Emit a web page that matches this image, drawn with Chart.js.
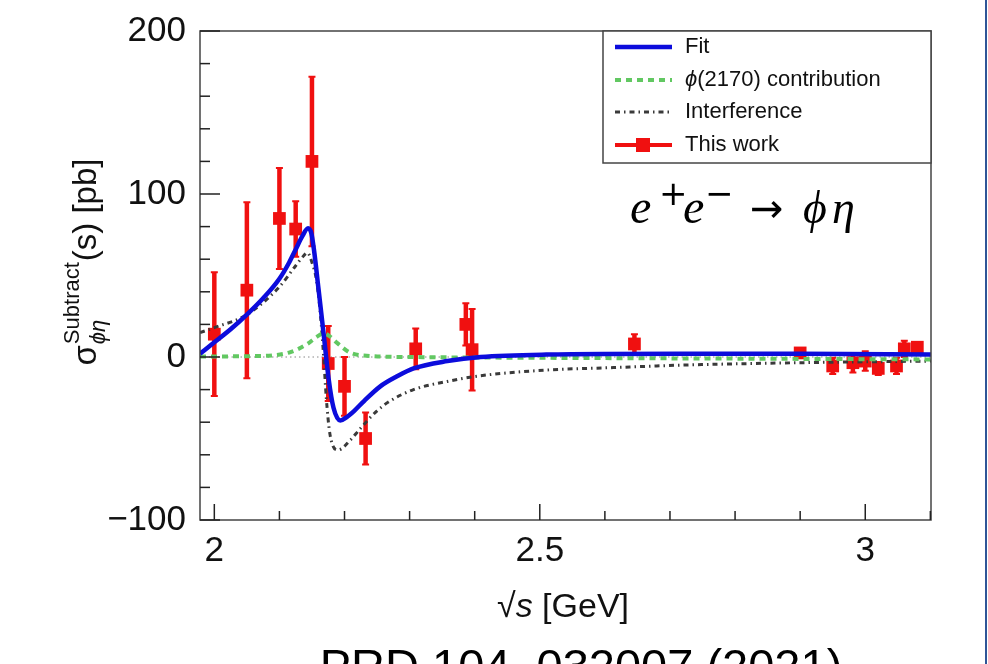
<!DOCTYPE html>
<html>
<head>
<meta charset="utf-8">
<script src="https://cdn.jsdelivr.net/npm/chart.js@4/dist/chart.umd.min.js"></script>
<style>
  html, body { margin: 0; padding: 0; background: #ffffff; }
  #wrap { position: relative; width: 988px; height: 664px; overflow: hidden; }
  canvas { display: block; }
</style>
</head>
<body>
<div id="wrap"><canvas id="c" width="988" height="664"></canvas></div>
<script>
// ---- data ----
const energies   = [2.0, 2.05, 2.1, 2.125, 2.15, 2.175, 2.2, 2.2324, 2.3094, 2.3864, 2.396, 2.6454, 2.9, 2.95, 2.981, 3.0, 3.02, 3.048, 3.06, 3.08];
const xsection   = [14, 41, 85, 78.5, 120, -4, -18, -50, 5, 20, 4.5, 8, 2.5, -5.5, -3.5, -2.5, -7, -5.5, 5, 6];
const xsErrors   = [38, 54, 31, 17, 52, 23, 18, 16, 12.5, 13, 25, 6, 3, 5, 6, 6, 4, 5, 5, 3];

const fitX  = [1.978, 2.0, 2.025, 2.05, 2.075, 2.1, 2.115, 2.125, 2.135, 2.144, 2.149, 2.153, 2.16, 2.168, 2.1755, 2.183, 2.1935, 2.203, 2.215, 2.23, 2.255, 2.28, 2.306, 2.358, 2.409, 2.51, 2.716, 2.9, 3.101];
const fitY  = [2, 9, 17, 26, 36, 48, 58, 66, 74, 79, 76, 66, 42, 14, -13, -31, -39, -37, -33, -27, -18, -12, -7, -2.5, 0, 1.5, 2, 2, 1.5];

const phiX  = [1.978, 2.05, 2.09, 2.117, 2.143, 2.158, 2.168, 2.178, 2.189, 2.209, 2.24, 2.3, 2.5, 2.8, 3.101];
const phiY  = [0.3, 0.5, 1, 3, 8, 12.5, 14.5, 12.5, 8.5, 2.6, 0.6, 0, -0.5, -1, -1.5];

const intX  = [1.978, 2.0, 2.05, 2.1, 2.125, 2.137, 2.143, 2.15, 2.157, 2.163, 2.168, 2.172, 2.1775, 2.19, 2.209, 2.224, 2.25, 2.27, 2.306, 2.358, 2.409, 2.51, 2.613, 2.716, 2.9, 3.101];
const intY  = [15, 18, 26, 43, 56, 62, 64, 58, 47, 26, 0, -25, -47, -57, -51, -44, -33, -27, -20, -15, -11.5, -8, -6.5, -5, -3.5, -2.5];

const xTickValues  = [2.0, 2.1, 2.2, 2.3, 2.4, 2.5, 2.6, 2.7, 2.8, 2.9, 3.0, 3.1];
const xTickLabels  = {"2": "2", "2.5": "2.5", "3": "3"};
const yTickValues  = [-100, -80, -60, -40, -20, 0, 20, 40, 60, 80, 100, 120, 140, 160, 180, 200];
const yTickLabels  = {"-100": "\u2212100", "0": "0", "100": "100", "200": "200"};
const legendLabels = ["Fit", "\u03D5(2170) contribution", "Interference", "This work"];

const toXY = (xs, ys) => xs.map((x, i) => ({x: x, y: ys[i]}));

const FONT = "'Liberation Sans', Arial, Helvetica, sans-serif";
const RED = '#f01010', BLUE = '#0c0cdc', GREEN = '#62c862', GREY = '#3a3a3a';

const decorPlugin = {
  id: 'decor',
  beforeDatasetsDraw(chart) {
    const ctx = chart.ctx, xs = chart.scales.x, ys = chart.scales.y, a = chart.chartArea;
    ctx.save();
    // zero line (dotted)
    const y0 = ys.getPixelForValue(0);
    ctx.strokeStyle = '#888'; ctx.lineWidth = 1; ctx.setLineDash([1.5, 3]);
    ctx.beginPath(); ctx.moveTo(a.left, y0); ctx.lineTo(a.right, y0); ctx.stroke();
    ctx.setLineDash([]);
    // error bars
    ctx.strokeStyle = RED;
    energies.forEach((e, i) => {
      const px = xs.getPixelForValue(e);
      const pt = ys.getPixelForValue(xsection[i] + xsErrors[i]);
      const pb = ys.getPixelForValue(xsection[i] - xsErrors[i]);
      ctx.lineWidth = 4.5;
      ctx.beginPath(); ctx.moveTo(px, pt); ctx.lineTo(px, pb); ctx.stroke();
      ctx.lineWidth = 2;
      ctx.beginPath(); ctx.moveTo(px - 3.5, pt); ctx.lineTo(px + 3.5, pt);
      ctx.moveTo(px - 3.5, pb); ctx.lineTo(px + 3.5, pb); ctx.stroke();
    });
    ctx.restore();
  },
  afterDatasetsDraw(chart) {
    const ctx = chart.ctx, xs = chart.scales.x, ys = chart.scales.y, a = chart.chartArea;
    ctx.save();
    // frame
    ctx.strokeStyle = '#444'; ctx.lineWidth = 1.5;
    ctx.strokeRect(a.left, a.top, a.right - a.left, a.bottom - a.top);
    // ticks (inward)
    ctx.strokeStyle = '#222'; ctx.lineWidth = 1.5;
    xs.ticks.forEach(t => {
      const px = xs.getPixelForValue(t.value);
      const major = xTickLabels[String(+t.value.toFixed(2))] !== undefined;
      ctx.beginPath(); ctx.moveTo(px, a.bottom); ctx.lineTo(px, a.bottom - (major ? 16 : 9)); ctx.stroke();
    });
    ys.ticks.forEach(t => {
      const py = ys.getPixelForValue(t.value);
      const major = yTickLabels[String(t.value)] !== undefined;
      ctx.beginPath(); ctx.moveTo(a.left, py); ctx.lineTo(a.left + (major ? 20 : 10), py); ctx.stroke();
    });
    // legend box
    const lx0 = 603, lx1 = a.right, ly0 = a.top, ly1 = 163;
    ctx.fillStyle = '#fff';
    ctx.fillRect(lx0, ly0, lx1 - lx0, ly1 - ly0);
    ctx.strokeStyle = '#444'; ctx.lineWidth = 1.5;
    ctx.strokeRect(lx0, ly0, lx1 - lx0, ly1 - ly0);
    const rows = [47, 80, 112, 145];
    const ds = chart.data.datasets;
    rows.forEach((ry, i) => {
      const d = ds[i];
      ctx.strokeStyle = d.borderColor; ctx.lineWidth = d.borderWidth;
      ctx.setLineDash(d.borderDash || []);
      ctx.beginPath(); ctx.moveTo(615, ry); ctx.lineTo(672, ry); ctx.stroke();
      ctx.setLineDash([]);
      if (i === 3) { ctx.fillStyle = RED; ctx.fillRect(636, ry - 7, 14, 14); }
      ctx.fillStyle = '#111';
      ctx.textBaseline = 'middle'; ctx.textAlign = 'left';
      if (i === 1) {
        ctx.font = "italic 22px " + FONT;
        ctx.fillText("\u03D5", 685, ry);
        const w = ctx.measureText("\u03D5").width;
        ctx.font = "22px " + FONT;
        ctx.fillText("(2170) contribution", 685 + w, ry);
      } else {
        ctx.font = "22px " + FONT;
        ctx.fillText(legendLabels[i], 685, ry);
      }
    });
    // x title: √s [GeV]
    ctx.fillStyle = '#111'; ctx.textBaseline = 'alphabetic'; ctx.textAlign = 'left';
    const xf = "34px " + FONT;
    ctx.font = xf;
    const p1 = "\u221A", p3 = " [GeV]";
    const w1 = ctx.measureText(p1).width, w3 = ctx.measureText(p3).width;
    ctx.font = "italic " + xf;
    const w2 = ctx.measureText("s").width;
    let sx = 563 - (w1 + w2 + w3) / 2;
    const by = 617;
    ctx.font = xf; ctx.fillText(p1, sx, by);
    ctx.font = "italic " + xf; ctx.fillText("s", sx + w1, by);
    ctx.font = xf; ctx.fillText(p3, sx + w1 + w2, by);

    // y title (rotated)
    ctx.save();
    ctx.translate(96, 262);
    ctx.rotate(-Math.PI / 2);
    const mf = "33px " + FONT, sf = "22px " + FONT;
    ctx.font = mf; const ws = ctx.measureText("\u03C3").width; const wm = ctx.measureText("(s) [pb]").width;
    ctx.font = sf; const wsup = ctx.measureText("Subtract").width;
    ctx.font = "italic " + sf; const wsub = ctx.measureText("\u03D5\u03B7").width;
    const total = ws + Math.max(wsup, wsub) + 2 + wm;
    let tx = -total / 2;
    ctx.font = mf; ctx.fillText("\u03C3", tx, 0);
    ctx.font = sf; ctx.fillText("Subtract", tx + ws + 1, -17);
    ctx.font = "italic " + sf; ctx.fillText("\u03D5\u03B7", tx + ws + 1, 9);
    ctx.font = mf; ctx.fillText("(s) [pb]", tx + ws + Math.max(wsup, wsub) + 2, 0);
    ctx.restore();

    // reaction label
    ctx.fillStyle = '#000';
    const serif = "'Liberation Serif', 'DejaVu Serif', serif";
    ctx.font = "italic 48px " + serif;
    ctx.fillText("e", 630, 223);
    ctx.fillText("e", 683, 223);
    ctx.font = "34px 'DejaVu Sans', sans-serif";
    ctx.fillText("+", 659, 205);
    ctx.fillText("\u2212", 705, 205);
    ctx.font = "40px 'DejaVu Sans', sans-serif";
    ctx.fillText("\u2192", 750, 222);
    ctx.font = "italic 46px " + serif;
    ctx.fillText("\u03D5", 803, 223);
    ctx.fillText("\u03B7", 832, 223);

    // citation at bottom
    ctx.font = "47px " + FONT; ctx.textAlign = 'center';
    ctx.fillText("PRD 104, 032007 (2021)", 581, 682);

    // slide border at right
    ctx.fillStyle = '#2f5597';
    ctx.fillRect(985, 0, 2, 664);
    ctx.restore();
  }
};

new Chart(document.getElementById('c'), {
  type: 'scatter',
  data: {
    datasets: [
      { label: legendLabels[0], data: toXY(fitX, fitY), showLine: true, borderColor: BLUE, borderWidth: 4.5,
        pointRadius: 0, cubicInterpolationMode: 'monotone', fill: false },
      { label: legendLabels[1], data: toXY(phiX, phiY), showLine: true, borderColor: GREEN, borderWidth: 4,
        borderDash: [6, 5], pointRadius: 0, cubicInterpolationMode: 'monotone', fill: false },
      { label: legendLabels[2], data: toXY(intX, intY), showLine: true, borderColor: GREY, borderWidth: 3,
        borderDash: [5, 4, 1.5, 4], pointRadius: 0, cubicInterpolationMode: 'monotone', fill: false },
      { label: legendLabels[3], data: toXY(energies, xsection), showLine: false, borderColor: RED, borderWidth: 4,
        backgroundColor: RED, pointStyle: 'rect', pointRadius: 9, pointBorderWidth: 0 }
    ]
  },
  options: {
    responsive: false,
    animation: false,
    devicePixelRatio: 1,
    layout: { padding: { top: 31, right: 57, left: 0, bottom: 0 } },
    plugins: { legend: { display: false }, tooltip: { enabled: false } },
    scales: {
      x: {
        type: 'linear', min: 1.978, max: 3.101,
        afterBuildTicks: s => { s.ticks = xTickValues.map(v => ({ value: v })); },
        afterFit: s => { s.height = 144; },
        grid: { display: false }, border: { display: false },
        ticks: { font: { family: FONT, size: 35 }, color: '#111', padding: 2, maxRotation: 0, autoSkip: false,
          callback: v => xTickLabels[String(+Number(v).toFixed(2))] || '' }
      },
      y: {
        type: 'linear', min: -100, max: 200,
        afterBuildTicks: s => { s.ticks = yTickValues.map(v => ({ value: v })); },
        afterFit: s => { s.width = 200; },
        grid: { display: false }, border: { display: false },
        ticks: { font: { family: FONT, size: 35 }, color: '#111', padding: 6, autoSkip: false,
          callback: v => yTickLabels[String(v)] || '' }
      }
    }
  },
  plugins: [decorPlugin]
});
</script>
</body>
</html>
